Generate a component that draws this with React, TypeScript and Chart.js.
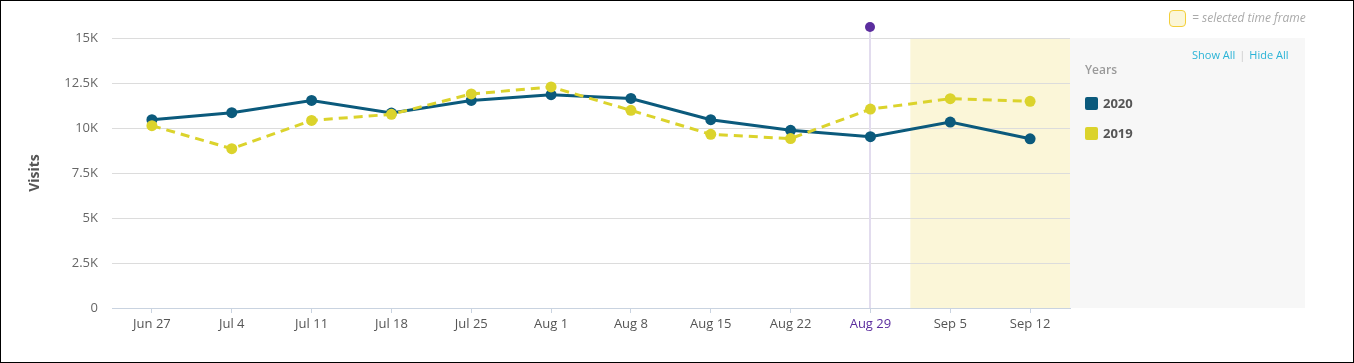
import React, { useEffect, useRef } from "react";
import { Chart, registerables } from "chart.js";

Chart.register(...registerables);

const categories = ["Jun 27", "Jul 4", "Jul 11", "Jul 18", "Jul 25", "Aug 1", "Aug 8", "Aug 15", "Aug 22", "Aug 29", "Sep 5", "Sep 12"];
const series2020 = [10460, 10850, 11530, 10830, 11530, 11850, 11640, 10460, 9870, 9520, 10330, 9400];
const series2019 = [10130, 8850, 10420, 10760, 11890, 12280, 10980, 9650, 9410, 11050, 11630, 11480];
const seriesNames = ["2020", "2019"];
const seriesColors = ["#0b5a7c", "#dbd32c"];
const yTickValues = [0, 2500, 5000, 7500, 10000, 12500, 15000];
const highlightIndex = 9; // Aug 29
const selectedStartIndex = 10; // Sep 5 onwards = selected time frame

const PURPLE = "#5b2d9e";
const FONT = "'Open Sans', 'Noto Sans', sans-serif";
const W = 1354;
const H = 363;
const PANEL_W = 235;

const fmtK = (v: number) => (v === 0 ? "0" : `${v / 1000}K`);

const overlayPlugin = {
  id: "overlay",
  beforeDraw(chart: any) {
    const { ctx, chartArea, scales } = chart;
    const x = scales.x;
    ctx.save();
    // legend panel background
    ctx.fillStyle = "#f7f7f7";
    ctx.fillRect(chartArea.right, chartArea.top, PANEL_W, chartArea.bottom - chartArea.top);
    // selected time frame band
    const start = (x.getPixelForValue(selectedStartIndex) + x.getPixelForValue(selectedStartIndex - 1)) / 2;
    ctx.fillStyle = "#fbf6d8";
    ctx.fillRect(start, chartArea.top, chartArea.right - start, chartArea.bottom - chartArea.top);
    ctx.restore();
  },
  beforeDatasetsDraw(chart: any) {
    const { ctx, chartArea, scales } = chart;
    const px = Math.round(scales.x.getPixelForValue(highlightIndex));
    const topY = chartArea.top - 11;
    ctx.save();
    ctx.strokeStyle = "#e2dcee";
    ctx.lineWidth = 2;
    ctx.beginPath();
    ctx.moveTo(px, topY);
    ctx.lineTo(px, chartArea.bottom);
    ctx.stroke();
    ctx.fillStyle = PURPLE;
    ctx.beginPath();
    ctx.arc(px, topY, 5, 0, Math.PI * 2);
    ctx.fill();
    ctx.restore();
  },
};

export default function App() {
  const canvasRef = useRef<HTMLCanvasElement | null>(null);

  useEffect(() => {
    const canvas = canvasRef.current;
    if (!canvas) return;
    const seriesData = [series2020, series2019];
    const chart = new Chart(canvas, {
      type: "line",
      data: {
        labels: categories,
        datasets: seriesNames.map((name, i) => ({
          label: name,
          data: seriesData[i],
          borderColor: seriesColors[i],
          backgroundColor: seriesColors[i],
          pointBackgroundColor: seriesColors[i],
          pointBorderColor: seriesColors[i],
          borderWidth: 3,
          pointRadius: 5.5,
          pointBorderWidth: 0,
          borderDash: i === 1 ? [9, 6] : [],
          tension: 0,
          fill: false,
          order: i === 0 ? 1 : 0,
        })),
      },
      options: {
        responsive: false,
        animation: false,
        devicePixelRatio: 1,
        layout: { padding: { top: 38, right: W - 1070, bottom: 0, left: 0 } },
        plugins: {
          legend: { display: false },
          tooltip: { enabled: false },
        },
        scales: {
          x: {
            type: "category",
            offset: true,
            grid: {
              display: true,
              drawOnChartArea: false,
              drawTicks: true,
              tickLength: 5,
              offset: false,
              color: "#c9d3e0",
            },
            border: { display: true, color: "#c9d3e0", width: 1 },
            ticks: {
              padding: 3,
              font: { family: FONT, size: 13 },
              color: (c: any) => (c.index === highlightIndex ? PURPLE : "#555"),
              maxRotation: 0,
              autoSkip: false,
            },
            afterFit(scale: any) {
              scale.height = H - 308;
            },
          },
          y: {
            min: 0,
            max: 15000,
            afterBuildTicks(scale: any) {
              scale.ticks = yTickValues.map((v) => ({ value: v }));
            },
            grid: { color: "#dcdcdc", drawTicks: false, lineWidth: 1 },
            border: { display: false },
            ticks: {
              padding: 14,
              font: { family: FONT, size: 13 },
              color: "#666",
              callback: (v: any) => fmtK(Number(v)),
            },
            title: {
              display: true,
              text: "Visits",
              color: "#555",
              font: { family: FONT, size: 14, weight: "bold" },
              padding: { top: 27, bottom: 0 },
            },
            afterFit(scale: any) {
              scale.width = 112;
            },
          },
        },
      },
      plugins: [overlayPlugin],
    });
    return () => chart.destroy();
  }, []);

  return (
    <div style={{ position: "fixed", left: 0, top: 0, width: W, height: H, background: "#fff", fontFamily: FONT }}>
      <canvas ref={canvasRef} width={W} height={H} style={{ position: "absolute", left: 0, top: 0, width: W, height: H, display: "block" }} />
      {/* selected time frame key */}
      <div style={{ position: "absolute", left: 1169, top: 10, width: 17, height: 17, boxSizing: "border-box", background: "#fbf6d8", border: "1.5px solid #f3cf3a", borderRadius: 4 }} />
      <div style={{ position: "absolute", left: 1192, top: 9, fontSize: 12, fontStyle: "italic", color: "#aaa", lineHeight: "18px", whiteSpace: "nowrap" }}>
        = selected time frame
      </div>
      {/* legend panel */}
      <div style={{ position: "absolute", left: 1192, top: 47, fontSize: 11, lineHeight: "16px", color: "#2ab3d6", whiteSpace: "nowrap" }}>
        Show All<span style={{ color: "#ccc", margin: "0 4px" }}>|</span>Hide All
      </div>
      <div style={{ position: "absolute", left: 1085, top: 61, fontSize: 12, fontWeight: 600, lineHeight: "18px", color: "#9a9a9a" }}>Years</div>
      {seriesNames.map((name, i) => (
        <div key={name} style={{ position: "absolute", left: 1085, top: 96 + i * 30, display: "flex", alignItems: "center", height: 14 }}>
          <div style={{ width: 13, height: 13, borderRadius: 2, background: seriesColors[i] }} />
          <span style={{ marginLeft: 5, fontSize: 13, fontWeight: 700, color: "#555", lineHeight: "14px" }}>{name}</span>
        </div>
      ))}
      <div style={{ position: "absolute", left: 0, top: 0, width: W, height: H, boxSizing: "border-box", border: "1px solid #000", pointerEvents: "none" }} />
    </div>
  );
}
